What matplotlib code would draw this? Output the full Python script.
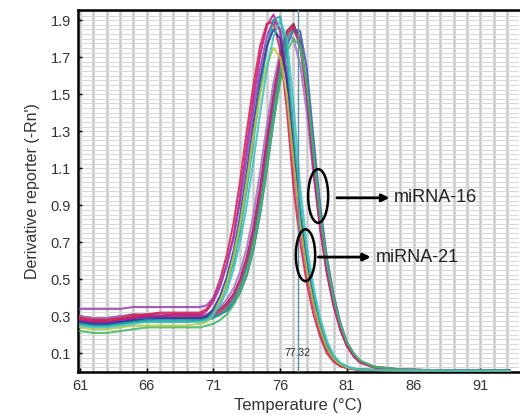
import numpy as np
import matplotlib
matplotlib.use('Agg')
import matplotlib.pyplot as plt
from matplotlib.patches import Ellipse

plt.rcParams['font.family'] = ['Liberation Sans', 'DejaVu Sans']

# temperature points (deg C) shared by every melt curve
temps = [61, 62, 63, 64, 65, 66, 67, 68, 69, 70,
         70.5, 71, 71.5, 72, 72.5, 73, 73.5, 74, 74.5, 75, 75.5, 76,
         76.5, 77, 77.5, 78, 78.5, 79, 79.5, 80, 80.5, 81, 81.5, 82,
         83, 85, 88, 93.2]

# miRNA-21 wells (earlier peak ~75.5)
a1 = [0.28, 0.27, 0.27, 0.28, 0.29, 0.30, 0.30, 0.31, 0.31, 0.31,
      0.33, 0.38, 0.46, 0.58, 0.73, 0.95, 1.22, 1.48, 1.71, 1.87, 1.93, 1.84,
      1.56, 1.12, 0.78, 0.54, 0.36, 0.22, 0.12, 0.065, 0.035, 0.022, 0.015, 0.012,
      0.010, 0.008, 0.007, 0.006]
a2 = [0.29, 0.28, 0.28, 0.29, 0.30, 0.31, 0.32, 0.32, 0.32, 0.32,
      0.34, 0.40, 0.50, 0.63, 0.80, 1.03, 1.30, 1.55, 1.76, 1.88, 1.89, 1.74,
      1.42, 1.00, 0.70, 0.48, 0.31, 0.19, 0.10, 0.055, 0.030, 0.020, 0.014, 0.011,
      0.010, 0.008, 0.007, 0.006]
a3 = [0.34, 0.34, 0.34, 0.34, 0.35, 0.35, 0.35, 0.35, 0.35, 0.35,
      0.36, 0.40, 0.47, 0.58, 0.72, 0.92, 1.16, 1.42, 1.64, 1.81, 1.90, 1.85,
      1.62, 1.20, 0.84, 0.58, 0.39, 0.24, 0.14, 0.075, 0.040, 0.025, 0.016, 0.012,
      0.010, 0.008, 0.007, 0.006]
a4 = [0.26, 0.25, 0.25, 0.26, 0.27, 0.28, 0.28, 0.28, 0.28, 0.28,
      0.29, 0.32, 0.38, 0.47, 0.59, 0.76, 0.99, 1.25, 1.52, 1.75, 1.90, 1.92,
      1.72, 1.30, 0.90, 0.62, 0.42, 0.26, 0.15, 0.080, 0.045, 0.027, 0.017, 0.013,
      0.010, 0.008, 0.007, 0.006]
a5 = [0.27, 0.26, 0.26, 0.27, 0.28, 0.29, 0.29, 0.29, 0.29, 0.29,
      0.30, 0.34, 0.41, 0.51, 0.65, 0.84, 1.08, 1.34, 1.58, 1.76, 1.85, 1.80,
      1.58, 1.18, 0.83, 0.57, 0.38, 0.23, 0.13, 0.070, 0.040, 0.024, 0.016, 0.012,
      0.010, 0.008, 0.007, 0.006]
a6 = [0.24, 0.23, 0.23, 0.24, 0.25, 0.25, 0.25, 0.25, 0.25, 0.26,
      0.27, 0.31, 0.38, 0.48, 0.62, 0.80, 1.03, 1.28, 1.50, 1.66, 1.75, 1.70,
      1.50, 1.14, 0.80, 0.55, 0.37, 0.23, 0.13, 0.070, 0.040, 0.024, 0.016, 0.012,
      0.010, 0.008, 0.007, 0.006]
a7 = [0.25, 0.24, 0.24, 0.25, 0.26, 0.27, 0.27, 0.27, 0.27, 0.27,
      0.28, 0.31, 0.36, 0.44, 0.55, 0.70, 0.90, 1.14, 1.40, 1.63, 1.81, 1.90,
      1.80, 1.45, 1.00, 0.68, 0.46, 0.29, 0.17, 0.090, 0.050, 0.030, 0.018, 0.013,
      0.010, 0.008, 0.007, 0.006]

# miRNA-16 wells (later peak ~77)
b1 = [0.29, 0.28, 0.28, 0.29, 0.30, 0.30, 0.30, 0.30, 0.30, 0.30,
      0.30, 0.31, 0.32, 0.35, 0.39, 0.46, 0.57, 0.72, 0.93, 1.19, 1.44, 1.66,
      1.81, 1.87, 1.80, 1.55, 1.15, 0.82, 0.57, 0.39, 0.25, 0.15, 0.09, 0.055,
      0.025, 0.012, 0.008, 0.007]
b2 = [0.30, 0.29, 0.29, 0.30, 0.31, 0.31, 0.31, 0.31, 0.31, 0.31,
      0.31, 0.32, 0.34, 0.37, 0.42, 0.50, 0.62, 0.78, 1.00, 1.26, 1.50, 1.71,
      1.84, 1.88, 1.78, 1.50, 1.10, 0.78, 0.54, 0.36, 0.23, 0.14, 0.085, 0.050,
      0.025, 0.012, 0.008, 0.007]
b3 = [0.27, 0.26, 0.26, 0.27, 0.28, 0.28, 0.29, 0.29, 0.29, 0.29,
      0.29, 0.30, 0.31, 0.33, 0.37, 0.43, 0.52, 0.66, 0.85, 1.09, 1.35, 1.58,
      1.76, 1.85, 1.84, 1.64, 1.26, 0.90, 0.62, 0.42, 0.27, 0.16, 0.10, 0.060,
      0.028, 0.013, 0.008, 0.007]
b4 = [0.26, 0.25, 0.25, 0.26, 0.27, 0.27, 0.27, 0.27, 0.27, 0.28,
      0.28, 0.29, 0.31, 0.34, 0.39, 0.46, 0.57, 0.72, 0.92, 1.17, 1.42, 1.64,
      1.79, 1.85, 1.78, 1.52, 1.13, 0.80, 0.56, 0.38, 0.24, 0.15, 0.09, 0.055,
      0.025, 0.012, 0.008, 0.007]
b5 = [0.30, 0.29, 0.29, 0.30, 0.30, 0.31, 0.31, 0.31, 0.31, 0.31,
      0.31, 0.33, 0.35, 0.39, 0.45, 0.54, 0.67, 0.85, 1.08, 1.33, 1.56, 1.73,
      1.82, 1.80, 1.66, 1.40, 1.06, 0.78, 0.56, 0.39, 0.26, 0.16, 0.10, 0.060,
      0.028, 0.013, 0.008, 0.007]
b6 = [0.28, 0.27, 0.27, 0.28, 0.29, 0.30, 0.30, 0.30, 0.30, 0.30,
      0.30, 0.31, 0.33, 0.36, 0.41, 0.49, 0.60, 0.76, 0.97, 1.23, 1.48, 1.69,
      1.83, 1.86, 1.76, 1.48, 1.09, 0.77, 0.53, 0.36, 0.23, 0.14, 0.085, 0.050,
      0.025, 0.012, 0.008, 0.007]
b7 = [0.22, 0.21, 0.21, 0.22, 0.23, 0.24, 0.24, 0.24, 0.24, 0.24,
      0.25, 0.26, 0.28, 0.31, 0.36, 0.43, 0.53, 0.67, 0.86, 1.10, 1.35, 1.57,
      1.73, 1.80, 1.76, 1.55, 1.18, 0.85, 0.59, 0.40, 0.26, 0.16, 0.10, 0.060,
      0.028, 0.013, 0.008, 0.007]

curves_21 = [a1, a2, a3, a4, a5, a6, a7]
colors_21 = ['#c0168c', '#d81b4a', '#9b3fb5', '#17a398', '#2b3a9e', '#b7c93a', '#35c2c4']
curves_16 = [b1, b2, b3, b4, b5, b6, b7]
colors_16 = ['#b06a2a', '#a3173f', '#3456b8', '#1f9e8a', '#a070c8', '#c8207c', '#3dba5f']

tm_value = 77.32
x_ticks = [61, 66, 71, 76, 81, 86, 91]
y_ticks = [0.1, 0.3, 0.5, 0.7, 0.9, 1.1, 1.3, 1.5, 1.7, 1.9]

fig = plt.figure(figsize=(5.2, 4.15), dpi=100)
ax = fig.add_axes([0.15, 0.104, 0.848, 0.872])

# curves
for vals, col in zip(curves_16, colors_16):
    ax.plot(temps, vals, color=col, lw=1.5, alpha=0.85, zorder=3)
for vals, col in zip(curves_21, colors_21):
    ax.plot(temps, vals, color=col, lw=1.5, alpha=0.85, zorder=3)

# Tm marker line
ax.axvline(tm_value, color='#5b8fa6', lw=1.0, zorder=4)
ax.text(tm_value, 0.1, f'{tm_value:.2f}', fontsize=7.5, color='#333333',
        ha='center', va='center', zorder=5)

# annotations
ax.add_patch(Ellipse((78.85, 0.95), 1.5, 0.29, fill=False, ec='black', lw=1.8, zorder=6))
ax.add_patch(Ellipse((77.9, 0.63), 1.45, 0.28, fill=False, ec='black', lw=1.8, zorder=6))
ax.annotate('', xy=(84.4, 0.94), xytext=(80.05, 0.94),
            arrowprops=dict(arrowstyle='-|>', color='black', lw=2, mutation_scale=11), zorder=6)
ax.annotate('', xy=(83.0, 0.62), xytext=(78.65, 0.62),
            arrowprops=dict(arrowstyle='-|>', color='black', lw=2, mutation_scale=11), zorder=6)
ax.text(84.55, 0.94, 'miRNA-16', fontsize=13, color='#222222', va='center', ha='left', zorder=6)
ax.text(83.15, 0.62, 'miRNA-21', fontsize=13, color='#222222', va='center', ha='left', zorder=6)

# axes and grid
ax.set_xlim(60.85, 93.9)
ax.set_ylim(0, 1.955)
ax.set_xticks(x_ticks)
ax.set_yticks(y_ticks)
ax.set_yticklabels([f'{v:.1f}' for v in y_ticks])
ax.set_xticks(np.arange(61, 94, 1), minor=True)
ax.set_yticks(np.arange(0, 1.96, 0.025), minor=True)
ax.grid(which='both', axis='x', color='#c8c8c8', lw=1.8, zorder=0)
ax.grid(which='both', axis='y', color='#d9d9d9', lw=0.8, zorder=0)
ax.set_axisbelow(True)
ax.tick_params(which='major', direction='in', length=3, width=1, labelsize=10.5,
               labelcolor='#333333', pad=5)
ax.tick_params(which='minor', length=0)
for side in ['left', 'bottom', 'top']:
    ax.spines[side].set_linewidth(1.8)
ax.spines['right'].set_visible(False)

ax.set_xlabel('Temperature (°C)', fontsize=12, color='#333333', labelpad=4)
ax.set_ylabel("Derivative reporter (-Rn')", fontsize=11.5, color='#333333', labelpad=8)

plt.savefig('out.png', dpi=100)
